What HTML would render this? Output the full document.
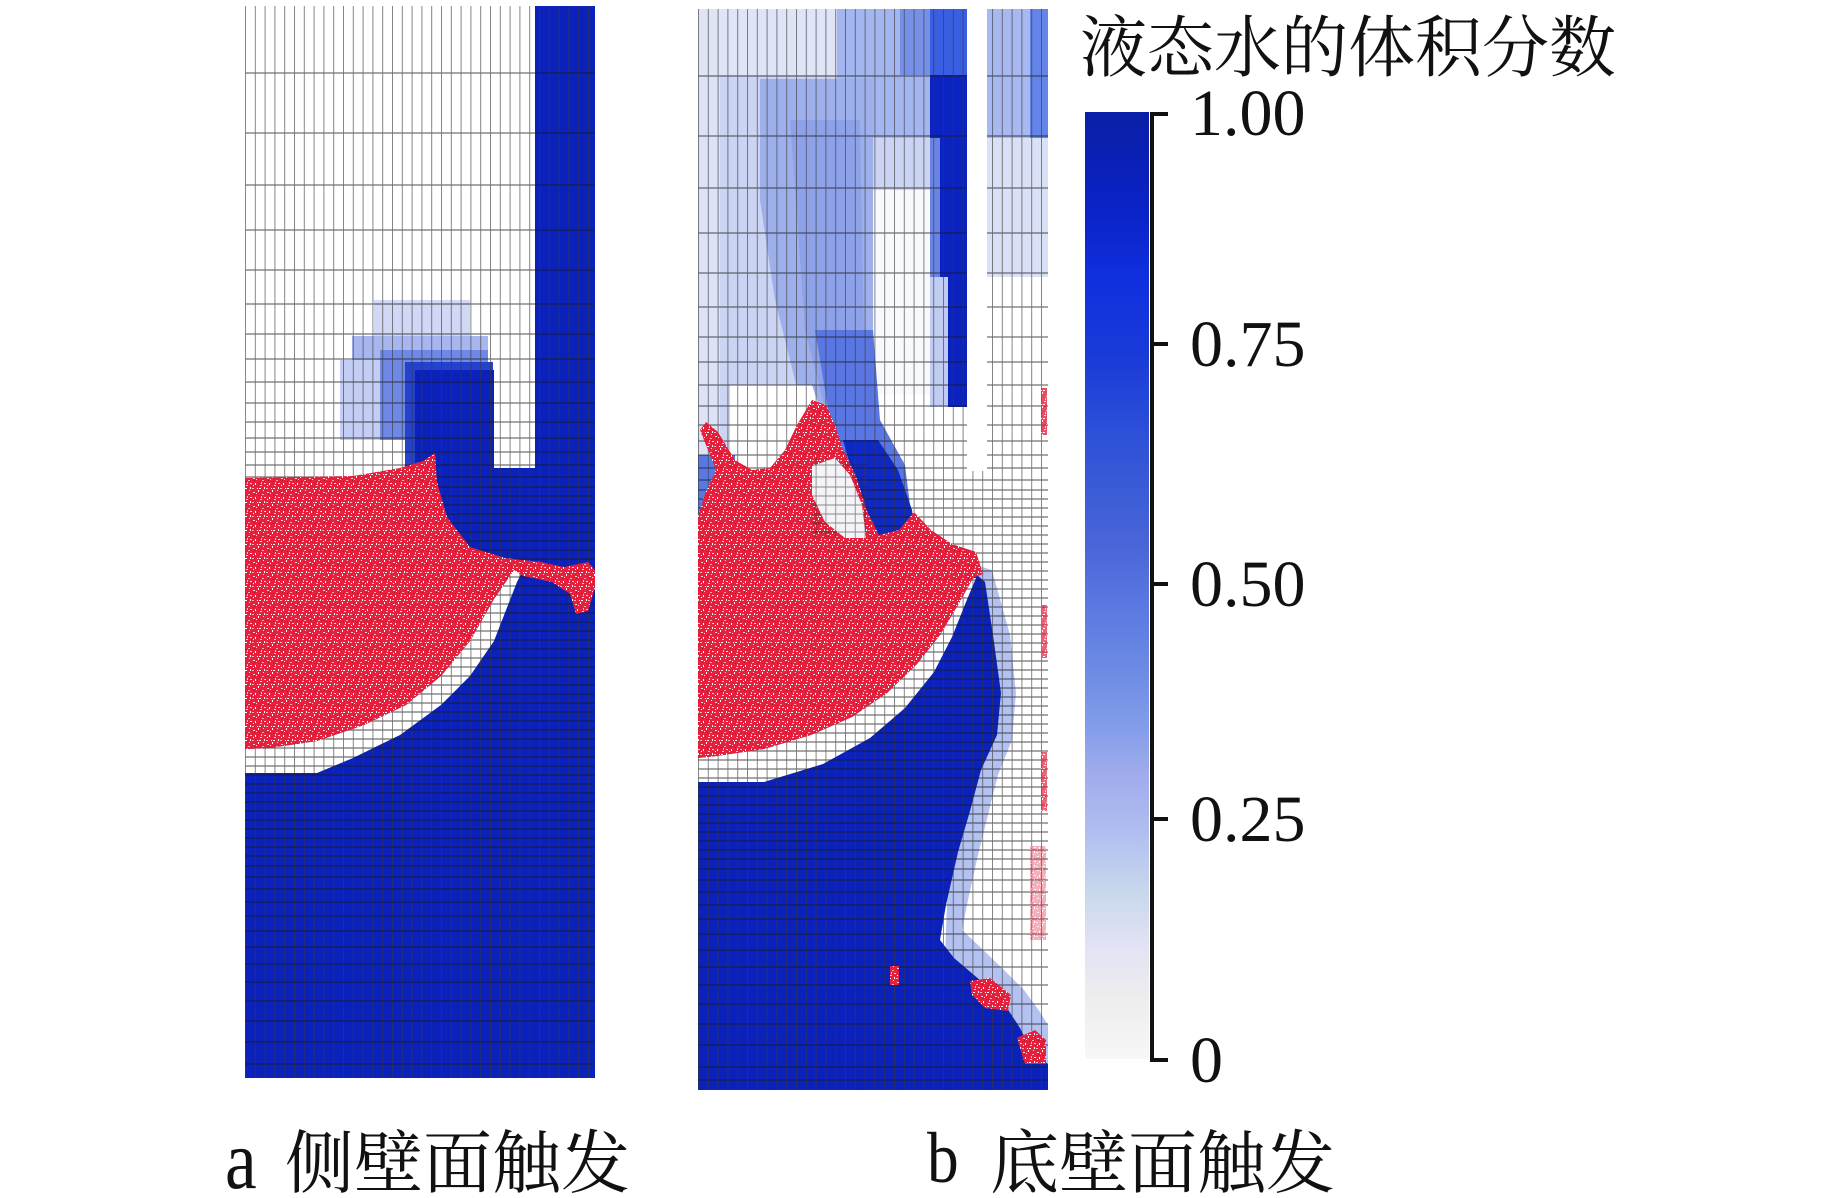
<!DOCTYPE html>
<html>
<head>
<meta charset="utf-8">
<style>
html,body{margin:0;padding:0;background:#fff;}
svg{display:block;}
svg text{font-family:"Times New Roman","Liberation Serif","Noto Serif CJK SC",serif;fill:#111;}
</style>
</head>
<body>
<svg width="1843" height="1198" viewBox="0 0 1843 1198" xmlns="http://www.w3.org/2000/svg">
<defs>
  <pattern id="va" x="245" y="0" width="9.8" height="20" patternUnits="userSpaceOnUse">
    <rect x="0" y="0" width="1" height="20" fill="#3a3a3a"/>
  </pattern>
  <pattern id="vb" x="698" y="0" width="9.8" height="20" patternUnits="userSpaceOnUse">
    <rect x="0" y="0" width="1" height="20" fill="#3a3a3a"/>
  </pattern>
  <pattern id="rs" x="0" y="0" width="14" height="14" patternUnits="userSpaceOnUse">
    <rect width="14" height="14" fill="#e3213d"/>
    <rect x="1" y="2" width="2" height="1" fill="#fbd3dc"/>
    <rect x="6" y="0" width="1" height="2" fill="#ffffff"/>
    <rect x="10" y="4" width="2" height="1" fill="#f7a8b8"/>
    <rect x="3" y="7" width="1" height="2" fill="#ffffff"/>
    <rect x="8" y="9" width="2" height="1" fill="#ffccd6"/>
    <rect x="12" y="11" width="1" height="2" fill="#ffffff"/>
    <rect x="0" y="12" width="2" height="1" fill="#f6b3c2"/>
    <rect x="5" y="12" width="1" height="1" fill="#ffffff"/>
    <rect x="11" y="0" width="1" height="1" fill="#ffdde6"/>
    <rect x="4" y="3" width="1" height="1" fill="#ffe6ec"/>
    <rect x="9" y="6" width="1" height="2" fill="#f9c0cc"/>
    <rect x="1" y="9" width="1" height="1" fill="#ffffff"/>
    <rect x="12" y="7" width="2" height="1" fill="#fbd3dc"/>
    <rect x="7" y="12" width="2" height="1" fill="#ffffff"/>
    <rect x="7" y="5" width="1" height="1" fill="#c0102a"/>
    <rect x="2" y="4" width="1" height="1" fill="#b80f28"/>
  </pattern>
  <linearGradient id="cb" x1="0" y1="0" x2="0" y2="1">
    <stop offset="0" stop-color="#0a1fa6"/>
    <stop offset="0.10" stop-color="#0a22c6"/>
    <stop offset="0.18" stop-color="#1030e0"/>
    <stop offset="0.26" stop-color="#1a3bd8"/>
    <stop offset="0.33" stop-color="#2a4ed8"/>
    <stop offset="0.40" stop-color="#3a5cd6"/>
    <stop offset="0.46" stop-color="#4a66d8"/>
    <stop offset="0.52" stop-color="#5a78e0"/>
    <stop offset="0.58" stop-color="#6a88e4"/>
    <stop offset="0.64" stop-color="#7e9ae8"/>
    <stop offset="0.70" stop-color="#a0acec"/>
    <stop offset="0.76" stop-color="#b0bef0"/>
    <stop offset="0.82" stop-color="#c6d6ec"/>
    <stop offset="0.88" stop-color="#e2e2f4"/>
    <stop offset="0.94" stop-color="#eeeeee"/>
    <stop offset="1" stop-color="#f7f7f7"/>
  </linearGradient>
  <path id="hrows" d="M0 73H350M0 133H350M0 185H350M0 230H350M0 270H350M0 304H350M0 334H350M0 359H350M0 382H350M0 403H350M0 422H350M0 438H350M0 452H350M0 465H350M0 477H350M0 487H350M0 496H350M0 505H350M0 514H350M0 523H350M0 532H350M0 541H350M0 550H350M0 559H350M0 568H350M0 577H350M0 586H350M0 595H350M0 604H350M0 613H350M0 622H350M0 631H350M0 640H350M0 649H350M0 658H350M0 667H350M0 676H350M0 685H350M0 694H350M0 703H350M0 712H350M0 721H350M0 730H350M0 739H350M0 748H350M0 757H350M0 766H350M0 775H350M0 784H350M0 793H350M0 802H350M0 811H350M0 820H350M0 829H350M0 838H350M0 847H350M0 856H350M0 866H350M0 877H350M0 889H350M0 902H350M0 916H350M0 931H350M0 947H350M0 964H350M0 982H350M0 1001H350M0 1021H350M0 1042H350M0 1064H350" stroke="#1a1a1a" stroke-width="1.2" fill="none"/>
</defs>

<rect width="1843" height="1198" fill="#ffffff"/>

<!-- ================= PANEL A ================= -->
<rect x="245" y="6" width="350" height="1072" fill="#ffffff"/>
<rect x="374" y="300" width="96" height="36" fill="#d0d8f6"/>
<rect x="352" y="336" width="136" height="24" fill="#a8b6f0"/>
<rect x="340" y="360" width="148" height="80" fill="#c4cdf3"/>
<rect x="380" y="350" width="108" height="90" fill="#6e88e6"/>
<rect x="405" y="362" width="88" height="108" fill="#2442cc"/>
<polygon points="415,370 494,370 494,468 535,468 535,6 595,6 595,1078 245,1078 245,490 415,490" fill="#0b21bb"/>
<polygon points="245,749 270,748 317,741 364,725 406,705 441,676 470,641 494,599 514,570 523,570 517,582 508,605 494,641 470,676 441,705 400,735 353,758 317,773 245,773" fill="#ffffff"/>
<g opacity="0.62">
  <rect x="245" y="6" width="350" height="1072" fill="url(#va)"/>
  <use href="#hrows" transform="translate(245,0)"/>
</g>
<polygon points="245,478 353,476 400,468 423,461 435,453 437,482 447,517 470,547 505,558 541,562 564,567 588,562 595,570 595,588 588,611 576,614 570,594 552,582 523,576 514,570 494,599 470,641 441,676 406,705 364,725 317,741 270,748 245,749" fill="url(#rs)"/>

<!-- ================= PANEL B ================= -->
<rect x="698" y="9" width="350" height="1081" fill="#ffffff"/>
<rect x="698" y="9" width="236" height="462" fill="#cbd4f3"/>
<rect x="698" y="9" width="22" height="462" fill="#dde2f7"/>
<rect x="698" y="9" width="139" height="66" fill="#dfe4f7"/>
<rect x="837" y="9" width="97" height="129" fill="#a4b6ef"/>
<rect x="900" y="9" width="34" height="66" fill="#7690e8"/>
<polygon points="760,79 873,79 873,395 860,470 830,470 800,400 775,300 760,200" fill="#9eb0ec"/>
<polygon points="790,120 860,120 865,395 848,450 828,420 805,330" fill="#8ea2ea"/>
<rect x="873" y="190" width="61" height="215" fill="#f8f9fd"/>
<rect x="873" y="395" width="93" height="76" fill="#ffffff"/>
<rect x="930" y="9" width="37" height="66" fill="#3a5ee2"/>
<rect x="930" y="75" width="37" height="63" fill="#0a24c4"/>
<rect x="930" y="138" width="10" height="139" fill="#6a84e4"/>
<rect x="940" y="138" width="27" height="139" fill="#0a22c0"/>
<rect x="930" y="277" width="18" height="130" fill="#c0ccf2"/>
<rect x="948" y="277" width="19" height="130" fill="#0a22c0"/>
<rect x="987" y="9" width="61" height="129" fill="#a8b8f0"/>
<rect x="1030" y="9" width="18" height="129" fill="#6484e8"/>
<rect x="987" y="138" width="61" height="139" fill="#dae1f6"/>
<rect x="987" y="277" width="61" height="200" fill="#ffffff"/>
<polygon points="730,385 812,385 830,440 870,480 900,540 698,540 698,455 730,455" fill="#ffffff"/>
<rect x="698" y="455" width="37" height="62" fill="#5a78e2"/>
<polygon points="815,330 873,330 880,420 905,465 915,545 870,535 850,480 830,420" fill="#5a76e2"/>
<polygon points="843,440 878,440 898,470 912,510 918,548 880,548 860,500" fill="#0e28c4"/>
<polygon points="960,560 992,570 1010,635 1016,693 1012,740 998,775 988,815 978,855 968,900 962,930 978,945 1002,968 1024,990 1040,1012 1048,1025 1048,1090 940,1090" fill="#b4c2f1"/>
<polygon points="698,600 960,560 985,582 993,635 1001,693 997,735 981,770 970,811 958,852 946,905 940,940 954,958 981,981 1005,1005 1020,1028 1032,1052 1048,1064 1048,1090 698,1090" fill="#0b21bb"/>
<polygon points="698,758 717,756 764,749 811,735 852,717 887,693 917,664 940,635 958,605 973,578 976,578 966,602 952,637 934,672 905,708 870,738 823,764 764,782 698,782" fill="#ffffff"/>
<g opacity="0.62">
  <rect x="698" y="9" width="350" height="1081" fill="url(#vb)"/>
  <use href="#hrows" transform="translate(698,3)"/>
  <path d="M698 1080H1048" stroke="#1a1a1a" stroke-width="1.2"/>
</g>
<rect x="967" y="9" width="20" height="462" fill="#ffffff"/>
<polygon points="698,517 705,494 716,470 700,430 706,422 718,432 735,460 752,470 770,468 785,450 797,425 812,400 826,405 835,425 842,447 856,476 867,511 879,535 899,530 914,512 931,530 952,544 976,552 983,574 973,578 958,605 940,635 917,664 887,693 852,717 811,735 764,749 717,756 698,758" fill="url(#rs)"/>
<polygon points="812,466 835,458 850,475 862,505 866,538 845,538 825,522 812,495" fill="#f4f4f8"/>
<g opacity="0.5">
  <rect x="812" y="458" width="54" height="80" fill="url(#vb)"/>
  <path d="M812 465H866M812 477H866M812 487H866M812 496H866M812 505H866M812 514H866M812 523H866M812 532H866" stroke="#222"/>
</g>
<polygon points="970,981 990,978 1011,995 1008,1011 985,1008 972,995" fill="url(#rs)"/>
<polygon points="1017,1038 1035,1030 1046,1040 1046,1064 1025,1064" fill="url(#rs)"/>
<rect x="890" y="966" width="9" height="19" fill="url(#rs)"/>
<rect x="1041" y="388" width="6" height="47" fill="url(#rs)" opacity="0.8"/>
<rect x="1042" y="605" width="5" height="53" fill="url(#rs)" opacity="0.7"/>
<rect x="1041" y="752" width="6" height="59" fill="url(#rs)" opacity="0.7"/>
<rect x="1030" y="846" width="16" height="94" fill="url(#rs)" opacity="0.35"/>

<!-- ================= COLORBAR ================= -->
<rect x="1085" y="112" width="64" height="947" fill="url(#cb)"/>
<rect x="1150" y="112" width="4" height="950" fill="#111"/>
<rect x="1150" y="112" width="18" height="4" fill="#111"/>
<rect x="1150" y="342" width="18" height="4" fill="#111"/>
<rect x="1150" y="582" width="18" height="4" fill="#111"/>
<rect x="1150" y="817" width="18" height="4" fill="#111"/>
<rect x="1150" y="1058" width="18" height="4" fill="#111"/>

<text x="1080" y="71" font-size="67">液态水的体积分数</text>
<text x="1190" y="135" font-size="66">1.00</text>
<text x="1190" y="366" font-size="66">0.75</text>
<text x="1190" y="606" font-size="66">0.50</text>
<text x="1190" y="841" font-size="66">0.25</text>
<text x="1190" y="1082" font-size="66">0</text>
<text transform="translate(225,1188) scale(0.85,1)" font-size="84">a</text>
<text x="285" y="1187" font-size="69">侧壁面触发</text>
<text transform="translate(927,1182) scale(0.88,1)" font-size="72">b</text>
<text x="990" y="1187" font-size="69">底壁面触发</text>
</svg>
</body>
</html>
